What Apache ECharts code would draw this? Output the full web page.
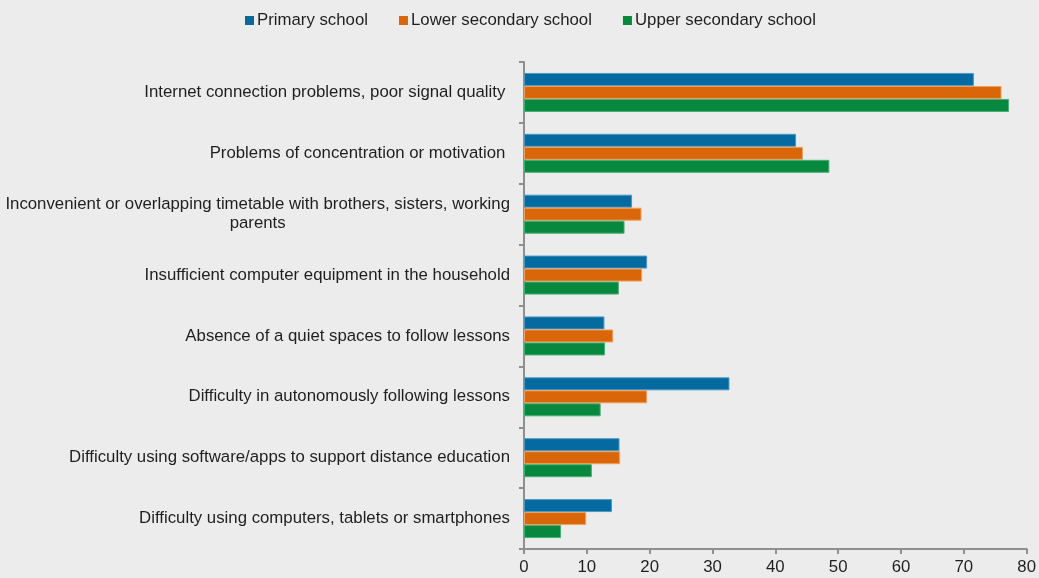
<!DOCTYPE html>
<html>
<head>
<meta charset="utf-8">
<script src="https://cdn.jsdelivr.net/npm/echarts@6/dist/echarts.min.js"></script>
<style>
  html, body { margin: 0; padding: 0; background: #ececec; }
  #chart { width: 1039px; height: 578px; }
</style>
</head>
<body>
<div id="chart"></div>
<script>
// Difficulties reported with distance education, by school level (%)
const categories = [
  'Internet connection problems, poor signal quality ',
  'Problems of concentration or motivation ',
  'Inconvenient or overlapping timetable with brothers, sisters, working\nparents',
  'Insufficient computer equipment in the household',
  'Absence of a quiet spaces to follow lessons',
  'Difficulty in autonomously following lessons',
  'Difficulty using software/apps to support distance education',
  'Difficulty using computers, tablets or smartphones'
];
const primarySchool = [71.6, 43.3, 17.2, 19.6, 12.8, 32.7, 15.2, 14.0];
const lowerSecondary = [76.0, 44.4, 18.7, 18.8, 14.2, 19.6, 15.3, 9.9];
const upperSecondary = [77.2, 48.6, 16.0, 15.1, 12.9, 12.2, 10.8, 5.9];
const xTicks = [0, 10, 20, 30, 40, 50, 60, 70, 80];

const FONT = '"Liberation Sans", Arial, sans-serif';
const FS = 16.8;
const TEXT = '#1f1f1f';

function barSeries(name, data, fill, edge) {
  return {
    name: name,
    type: 'bar',
    data: data,
    barWidth: 13,
    barGap: '0%',
    itemStyle: { color: fill, borderColor: edge, borderWidth: 1 }
  };
}

const chart = echarts.init(document.getElementById('chart'));
chart.setOption({
  backgroundColor: '#ececec',
  animation: false,
  textStyle: { fontFamily: FONT },
  legend: {
    top: 7,
    left: 240,
    itemWidth: 9,
    itemHeight: 9,
    itemGap: 31,
    icon: 'rect',
    itemStyle: { borderWidth: 0 },
    textStyle: { fontFamily: FONT, fontSize: FS, color: TEXT, padding: [0, 0, 0, -2] },
    data: ['Primary school', 'Lower secondary school', 'Upper secondary school']
  },
  grid: { left: 524, right: 10, top: 62, bottom: 29, containLabel: false },
  xAxis: {
    type: 'value',
    min: xTicks[0],
    max: xTicks[xTicks.length - 1],
    interval: 10,
    splitLine: { show: false },
    axisLine: { show: true, lineStyle: { color: '#8f8f8f', width: 2 } },
    axisTick: { show: true, length: 5, lineStyle: { color: '#8f8f8f', width: 2 } },
    axisLabel: { fontFamily: FONT, fontSize: FS, color: TEXT, margin: 10 }
  },
  yAxis: {
    type: 'category',
    inverse: true,
    data: categories,
    axisLine: { show: true, lineStyle: { color: '#8f8f8f', width: 2 } },
    axisTick: { show: true, length: 5, lineStyle: { color: '#8f8f8f', width: 2 } },
    axisLabel: {
      fontFamily: FONT, fontSize: FS, color: TEXT, margin: 14, lineHeight: 19,
      formatter: function (v) {
        return v.split('\n').map(function (s) { return '{c|' + s + '}'; }).join('\n');
      },
      rich: { c: { fontFamily: FONT, fontSize: FS, color: TEXT, align: 'center', lineHeight: 19 } }
    }
  },
  series: [
    barSeries('Primary school', primarySchool, '#056a9f', '#4b97c5'),
    barSeries('Lower secondary school', lowerSecondary, '#d96609', '#f0a060'),
    barSeries('Upper secondary school', upperSecondary, '#08883e', '#45b074')
  ]
});
</script>
</body>
</html>
